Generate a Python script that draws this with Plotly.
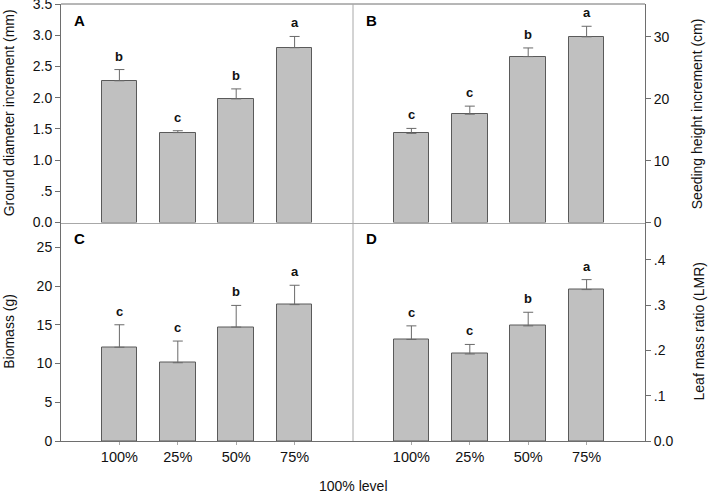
import plotly.graph_objects as go
from plotly.subplots import make_subplots

categories = ["100%", "25%", "50%", "75%"]

diam = [2.27, 1.44, 1.98, 2.80]
diam_err = [0.18, 0.03, 0.16, 0.18]
diam_letters = ["b", "c", "b", "a"]

height = [14.4, 17.5, 26.8, 30.0]
height_err = [0.8, 1.3, 1.4, 1.7]
height_letters = ["c", "c", "b", "a"]

biomass = [12.1, 10.1, 14.7, 17.6]
biomass_err = [2.9, 2.8, 2.8, 2.5]
biomass_letters = ["c", "c", "b", "a"]

lmr = [0.224, 0.192, 0.254, 0.334]
lmr_err = [0.030, 0.021, 0.030, 0.022]
lmr_letters = ["c", "c", "b", "a"]

x_title = "100% level"
titles = ["Ground diameter increment (mm)", "Seeding height increment (cm)",
          "Biomass (g)", "Leaf mass ratio (LMR)"]
panel_tags = ["A", "B", "C", "D"]

FONT = "Liberation Sans, Arial, sans-serif"
AXC = "#6e6e6e"
LIGHT = "#a8a8a8"

fig = make_subplots(rows=2, cols=2, horizontal_spacing=0, vertical_spacing=0)

xs = list(range(len(categories)))
panels = [
    (1, 1, diam, diam_err, diam_letters, [0, 3.5],
     [0, 0.5, 1.0, 1.5, 2.0, 2.5, 3.0, 3.5], ["0.0", ".5", "1.0", "1.5", "2.0", "2.5", "3.0", "3.5"]),
    (1, 2, height, height_err, height_letters, [0, 35.3],
     [0, 10, 20, 30], ["0", "10", "20", "30"]),
    (2, 1, biomass, biomass_err, biomass_letters, [0, 28.2],
     [0, 5, 10, 15, 20, 25], ["0", "5", "10", "15", "20", "25"]),
    (2, 2, lmr, lmr_err, lmr_letters, [0, 0.482],
     [0, 0.1, 0.2, 0.3, 0.4], ["0.0", ".1", ".2", ".3", ".4"]),
]

for i, (r, c, vals, errs, letters, yr, tv, tt) in enumerate(panels):
    fig.add_trace(go.Bar(
        x=xs, y=vals, width=0.61,
        marker=dict(color="#c0c0c0", line=dict(color="#5a5a5a", width=1)),
        error_y=dict(type="data", symmetric=False, array=errs, arrayminus=[0] * len(errs),
                     color="#6a6a6a", thickness=1, width=5),
        showlegend=False, hoverinfo="skip"), row=r, col=c)
    for xi, v, e, lt in zip(xs, vals, errs, letters):
        fig.add_annotation(x=xi, y=v + e, text="<b>%s</b>" % lt, showarrow=False,
                           yanchor="bottom", yshift=4, font=dict(size=13, color="#111", family=FONT),
                           row=r, col=c)
    fig.update_yaxes(range=yr, tickvals=tv, ticktext=tt, showgrid=False, zeroline=False,
                     showline=True, linecolor=AXC, linewidth=1, ticks="outside", ticklen=5,
                     tickcolor=AXC, side="left" if c == 1 else "right",
                     ticklabeloverflow="allow", automargin=False,
                     tickfont=dict(size=14, color="#111", family=FONT), row=r, col=c)
    if r == 2:
        fig.update_xaxes(range=[-1, 4], tickvals=xs, ticktext=categories, showgrid=False,
                         zeroline=False, showline=True, linecolor=AXC, linewidth=1,
                         ticks="outside", ticklen=3, tickcolor=LIGHT, automargin=False,
                         tickfont=dict(size=14.5, color="#111", family=FONT), row=r, col=c)
    else:
        fig.update_xaxes(range=[-1, 4], showticklabels=False, showgrid=False, zeroline=False,
                         showline=True, linecolor=LIGHT, linewidth=1, ticks="",
                         automargin=False, row=r, col=c)

# frame lines
fig.add_shape(type="line", xref="paper", yref="paper", x0=0, x1=1, y0=1, y1=1,
              line=dict(color=AXC, width=1))
fig.add_shape(type="line", xref="paper", yref="paper", x0=0.5, x1=0.5, y0=0, y1=1,
              line=dict(color=LIGHT, width=1))

# panel tags
tag_pos = [(0.019, 0.963), (0.519, 0.963), (0.019, 0.463), (0.519, 0.463)]
for tag, (px, py) in zip(panel_tags, tag_pos):
    fig.add_annotation(xref="paper", yref="paper", x=px, y=py, text="<b>%s</b>" % tag,
                       showarrow=False, xanchor="left", yanchor="middle",
                       font=dict(size=15, color="#000", family=FONT))

# axis titles
title_pos = [(-0.089, 0.75), (1.089, 0.75), (-0.089, 0.25), (1.092, 0.25)]
for t, (px, py) in zip(titles, title_pos):
    fig.add_annotation(xref="paper", yref="paper", x=px, y=py, text=t, textangle=-90,
                       showarrow=False, xanchor="center", yanchor="middle",
                       font=dict(size=14, color="#111", family=FONT))
fig.add_annotation(xref="paper", yref="paper", x=0.5, y=-0.103, text=x_title,
                   showarrow=False, xanchor="center", yanchor="middle",
                   font=dict(size=14, color="#111", family=FONT))

fig.update_layout(width=708, height=496, margin=dict(l=61, r=63, t=4, b=55),
                  paper_bgcolor="white", plot_bgcolor="white", bargap=0,
                  font=dict(family=FONT, color="#111"))

fig.write_html("out.html", config={"displayModeBar": False},
               post_script="document.body.style.margin='0';document.body.style.overflow='hidden';")
